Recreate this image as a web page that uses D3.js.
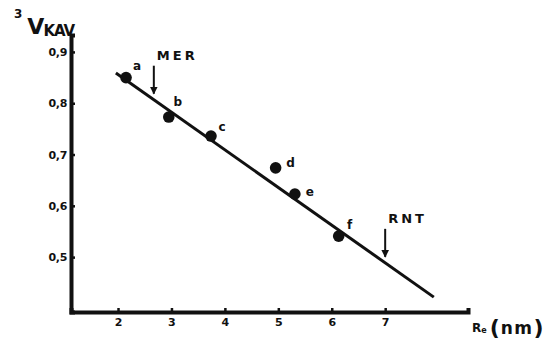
<!DOCTYPE html>
<html>
<head>
<meta charset="utf-8">
<script src="https://cdn.jsdelivr.net/npm/d3@7"></script>
<style>
  html, body { margin: 0; padding: 0; background: #fff; }
  svg { display: block; }
  text { font-family: "DejaVu Sans", "Liberation Sans", Arial, sans-serif; font-weight: bold; fill: #111; }
</style>
</head>
<body>
<svg id="chart" width="559" height="342"></svg>
<script>
// Fractions a–f: Stokes radius (nm) against cube root of K_AV
const fractionLabels = ["a", "b", "c", "d", "e", "f"];
const stokesRadius = [2.15, 2.95, 3.74, 4.95, 5.31, 6.13];
const cubeRootKav = [0.850, 0.773, 0.736, 0.674, 0.623, 0.541];

// Fitted calibration line (end points)
const fitRadius = [1.96, 7.91];
const fitKav = [0.859, 0.422];

// Marker proteins indicated by arrows
const markerNames = ["MER", "RNT"];
const markerRadius = [2.67, 7.0];

const xTicks = [2, 3, 4, 5, 6, 7];
const yTicks = [0.5, 0.6, 0.7, 0.8, 0.9];

const svg = d3.select("#chart");
const x = d3.scaleLinear().domain([1.12, 8.55]).range([71, 468]);
const y = d3.scaleLinear().domain([0.393, 0.933]).range([312, 35]);
const commaFmt = d3.formatLocale({ decimal: ",", thousands: ".", grouping: [3], currency: ["", ""] }).format(".1f");

// Axes: ticks point inward, labels outside
const yAxis = d3.axisLeft(y).tickValues(yTicks).tickSize(-4).tickPadding(4).tickFormat(commaFmt);
const xAxis = d3.axisBottom(x).tickValues(xTicks).tickSize(-4).tickPadding(6).tickFormat(d3.format("d"));

const gy = svg.append("g").attr("transform", `translate(${x.range()[0]},0)`).call(yAxis);
const gx = svg.append("g").attr("transform", `translate(0,${y.range()[0]})`).call(xAxis);
[gy, gx].forEach(g => {
  g.select(".domain").attr("stroke", "#111").attr("stroke-width", 4);
  g.selectAll(".tick line").attr("stroke", "#111").attr("stroke-width", 2.5);
  g.selectAll(".tick text").attr("fill", "#111")
    .style("font-family", "'DejaVu Sans', sans-serif")
    .style("font-weight", "bold")
    .style("font-size", "11px");
});
gy.selectAll(".tick text").style("letter-spacing", "-0.3px");

// Regression line
const line = d3.line().x(d => x(d[0])).y(d => y(d[1]));
svg.append("path")
  .datum(fitRadius.map((r, i) => [r, fitKav[i]]))
  .attr("d", line)
  .attr("fill", "none")
  .attr("stroke", "#111")
  .attr("stroke-width", 3);

// Data points
const pts = stokesRadius.map((r, i) => ({ r, k: cubeRootKav[i], label: fractionLabels[i] }));
svg.append("g").selectAll("circle").data(pts).join("circle")
  .attr("cx", d => x(d.r))
  .attr("cy", d => y(d.k))
  .attr("r", 5.8)
  .attr("fill", "#111");

// Point letters
const labelOffsets = { a: [11, -12], b: [9, -15], c: [11, -9], d: [15, -5], e: [15, -2], f: [11, -11] };
svg.append("g").selectAll("text").data(pts).join("text")
  .attr("x", d => x(d.r) + labelOffsets[d.label][0])
  .attr("y", d => y(d.k) + labelOffsets[d.label][1])
  .attr("text-anchor", "middle")
  .attr("dominant-baseline", "central")
  .style("font-size", "12px")
  .text(d => d.label);

// Marker arrows pointing at the fitted line
const fitAt = r => fitKav[0] + (fitKav[1] - fitKav[0]) * (r - fitRadius[0]) / (fitRadius[1] - fitRadius[0]);
svg.append("defs").append("marker")
  .attr("id", "head").attr("viewBox", "0 0 10 10")
  .attr("refX", 9).attr("refY", 5)
  .attr("markerWidth", 4).attr("markerHeight", 4)
  .attr("orient", "auto")
  .append("path").attr("d", "M0,0 L10,5 L0,10 z").attr("fill", "#111");

markerNames.forEach((name, i) => {
  const px = x(markerRadius[i]);
  const tip = y(fitAt(markerRadius[i])) - 6;
  svg.append("line")
    .attr("x1", px).attr("x2", px)
    .attr("y1", tip - 28).attr("y2", tip)
    .attr("stroke", "#111").attr("stroke-width", 2)
    .attr("marker-end", "url(#head)");
  svg.append("text")
    .attr("x", px + 3)
    .attr("y", tip - 34)
    .style("font-size", "13px")
    .style("letter-spacing", "3px")
    .text(name);
});

// Y-axis title: cube root of K_AV
const yt = svg.append("text").attr("x", 14).attr("y", 34);
yt.append("tspan").attr("dy", -16).style("font-size", "12px").text("3");
yt.append("tspan").attr("dx", 5).attr("dy", 16).style("font-size", "22px").text("V");
yt.append("tspan").attr("dx", -1).attr("dy", 2).style("font-size", "15px").style("letter-spacing", "-1px").text("KAV");

// X-axis title: Stokes radius (nm)
const xt = svg.append("text").attr("x", 472).attr("y", 332);
xt.append("tspan").style("font-size", "12px").text("R");
xt.append("tspan").attr("dy", 1).style("font-size", "8px").text("e");
xt.append("tspan").attr("dx", 3).attr("dy", 2).style("font-size", "22px").text("(");
xt.append("tspan").attr("dx", 1).attr("dy", -1).style("font-size", "17px").style("letter-spacing", "1.5px").text("nm");
xt.append("tspan").attr("dy", 1).style("font-size", "22px").text(")");
</script>
</body>
</html>
